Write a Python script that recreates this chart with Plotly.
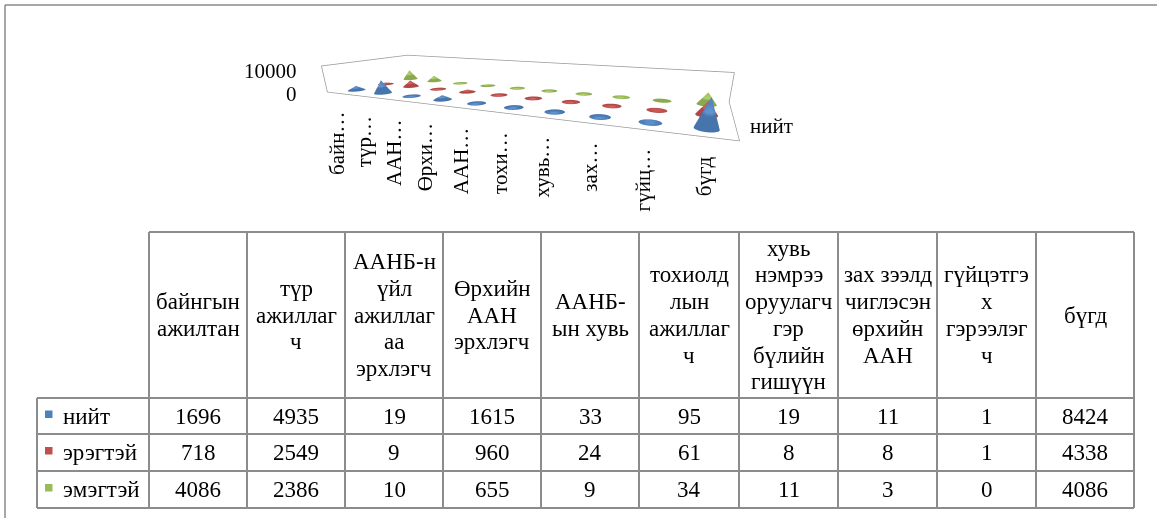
import math
import plotly.graph_objects as go

# ---------------- data ----------------
categories = ["байнгын ажилтан", "түр ажиллагч", "ААНБ-н үйл ажиллагаа эрхлэгч",
              "Өрхийн ААН эрхлэгч", "ААНБ-ын хувь", "тохиолдлын ажиллагч",
              "хувь нэмрээ оруулагч гэр бүлийн гишүүн", "зах зээлд чиглэсэн өрхийн ААН",
              "гүйцэтгэх гэрээлэгч", "бүгд"]
header_labels = ["байнгын<br>ажилтан", "түр<br>ажиллаг<br>ч", "ААНБ-н<br>үйл<br>ажиллаг<br>аа<br>эрхлэгч",
                 "Өрхийн<br>ААН<br>эрхлэгч", "ААНБ-<br>ын хувь", "тохиолд<br>лын<br>ажиллаг<br>ч",
                 "хувь<br>нэмрээ<br>оруулагч<br>гэр<br>бүлийн<br>гишүүн", "зах зээлд<br>чиглэсэн<br>өрхийн<br>ААН",
                 "гүйцэтгэ<br>х<br>гэрээлэг<br>ч", "бүгд"]
axis_labels = ["байн…", "түр…", "ААН…", "Өрхи…", "ААН…", "тохи…", "хувь…", "зах…", "гүйц…", "бүгд"]
series_names = ["нийт", "эрэгтэй", "эмэгтэй"]
niit = [1696, 4935, 19, 1615, 33, 95, 19, 11, 1, 8424]
eregtei = [718, 2549, 9, 960, 24, 61, 8, 8, 1, 4338]
emegtei = [4086, 2386, 10, 655, 9, 34, 11, 3, 0, 4086]
series_values = [niit, eregtei, emegtei]
series_colors = ["#4F81BD", "#C0504D", "#9BBB59"]
z_ticks = [0, 10000]

W, H = 1157, 518
FONT = "Liberation Serif"


def X(px):
    return px / W


def Y(py):
    return 1 - py / H


# ---------------- 3D cones ----------------
def cone_trace(values, j, color, r=0.22, n=40):
    xs, ys, zs, I, J, K = [], [], [], [], [], []
    for i, v in enumerate(values):
        b = len(xs)
        xs += [i, i]
        ys += [j, j]
        zs += [0, v]
        for k in range(n):
            a = 2 * math.pi * k / n
            xs.append(i + r * math.cos(a))
            ys.append(j + r * math.sin(a))
            zs.append(0)
        for k in range(n):
            p = b + 2 + k
            q = b + 2 + (k + 1) % n
            I += [b + 1, b]
            J += [p, q]
            K += [q, p]
    return go.Mesh3d(x=xs, y=ys, z=zs, i=I, j=J, k=K, color=color, flatshading=False,
                     lighting=dict(ambient=0.9, diffuse=0.35, specular=0.3, roughness=0.5, fresnel=0.1),
                     lightposition=dict(x=-100000, y=-100000, z=60000),
                     hoverinfo="skip", showscale=False)


fig = go.Figure()
for j, (vals, col) in enumerate(zip(series_values, series_colors)):
    fig.add_trace(cone_trace(vals, j, col))

axis_common = dict(showbackground=False, showgrid=False, zeroline=False, showticklabels=False,
                   ticks="", title=dict(text=""), showline=True, linecolor="#969696", linewidth=1.5,
                   mirror=True, showspikes=False)

LBL = dict(family=FONT, size=21, color="black")
scene_ann = []
for i, lab in enumerate(axis_labels):
    scene_ann.append(dict(x=i, y=-0.5, z=0, text=lab, textangle=-90, showarrow=False,
                          xanchor="center", yanchor="top", yshift=-17, xshift=-3, font=LBL))
scene_ann.append(dict(x=-0.5, y=-0.5, z=z_ticks[1], text=str(z_ticks[1]), showarrow=False,
                      xanchor="right", yanchor="middle", xshift=-22, yshift=-5, font=LBL))
scene_ann.append(dict(x=-0.5, y=-0.5, z=z_ticks[0], text=str(z_ticks[0]), showarrow=False,
                      xanchor="right", yanchor="middle", xshift=-28, yshift=-2, font=LBL))
scene_ann.append(dict(x=9.5, y=0, z=0, text=series_names[0], showarrow=False,
                      xanchor="left", yanchor="middle", xshift=11, yshift=6, font=LBL))

fig.update_layout(
    scene=dict(
        domain=dict(x=[0.2359, 0.7199], y=[0.4562, 1.0]),
        xaxis=dict(range=[-0.5, 9.5], **axis_common),
        yaxis=dict(range=[-0.5, 2.5], **axis_common),
        zaxis=dict(range=[0, 10000], **axis_common),
        aspectmode="manual",
        aspectratio=dict(x=1, y=0.3, z=0.07),
        camera=dict(eye=dict(x=0.4234, y=-0.7537, z=0.1552),
                    center=dict(x=0.056, y=0.1118, z=-0.1852),
                    up=dict(x=0, y=0, z=1),
                    projection=dict(type="perspective")),
        annotations=scene_ann,
    )
)

# ---------------- data table ----------------
col_x = [37, 149, 247, 345, 443, 541, 639, 739, 838, 937, 1036, 1134]
row_y = [232, 398, 434, 471, 508]
LC = "#8c8c8c"
shapes = []
# outer chart border
shapes.append(dict(type="line", xref="paper", yref="paper", x0=X(5), x1=X(1157), y0=Y(5), y1=Y(5),
                   line=dict(color="#8a8a8a", width=1.5)))
shapes.append(dict(type="line", xref="paper", yref="paper", x0=X(5), x1=X(5), y0=Y(5), y1=Y(518),
                   line=dict(color="#8a8a8a", width=1.5)))
# horizontal lines
shapes.append(dict(type="line", xref="paper", yref="paper", x0=X(col_x[1]), x1=X(col_x[-1]),
                   y0=Y(row_y[0]), y1=Y(row_y[0]), line=dict(color=LC, width=2)))
for ry in row_y[1:]:
    shapes.append(dict(type="line", xref="paper", yref="paper", x0=X(col_x[0]), x1=X(col_x[-1]),
                       y0=Y(ry), y1=Y(ry), line=dict(color=LC, width=2)))
# vertical lines
shapes.append(dict(type="line", xref="paper", yref="paper", x0=X(col_x[0]), x1=X(col_x[0]),
                   y0=Y(row_y[1]), y1=Y(row_y[-1]), line=dict(color=LC, width=2)))
for cx in col_x[1:]:
    shapes.append(dict(type="line", xref="paper", yref="paper", x0=X(cx), x1=X(cx),
                       y0=Y(row_y[0]), y1=Y(row_y[-1]), line=dict(color=LC, width=2)))

annotations = []
TS = 23
line_gap = 26.7
hc = (row_y[0] + row_y[1]) / 2
for c, lab in enumerate(header_labels):
    cx = (col_x[c + 1] + col_x[c + 2]) / 2
    lines = lab.split("<br>")
    n = len(lines)
    for k, ln in enumerate(lines):
        yy = hc + (k - (n - 1) / 2) * line_gap
        annotations.append(dict(x=X(cx), y=Y(yy), xref="paper", yref="paper", text=ln, showarrow=False,
                                xanchor="center", yanchor="middle",
                                font=dict(family=FONT, size=TS, color="black")))
for r, (name, vals, col) in enumerate(zip(series_names, series_values, series_colors)):
    cy = (row_y[r + 1] + row_y[r + 2]) / 2
    shapes.append(dict(type="rect", xref="paper", yref="paper", x0=X(45), x1=X(52.5),
                       y0=Y(cy - 5.5), y1=Y(cy + 2), fillcolor=col, line=dict(width=0)))
    annotations.append(dict(x=X(61), y=Y(cy), xref="paper", yref="paper", text=name, showarrow=False,
                            xanchor="left", yanchor="middle",
                            font=dict(family=FONT, size=TS, color="black")))
    for c, v in enumerate(vals):
        cx = (col_x[c + 1] + col_x[c + 2]) / 2
        annotations.append(dict(x=X(cx), y=Y(cy), xref="paper", yref="paper", text=str(v), showarrow=False,
                                xanchor="center", yanchor="middle",
                                font=dict(family=FONT, size=TS, color="black")))

fig.update_layout(
    width=W, height=H,
    margin=dict(l=0, r=0, t=0, b=0),
    paper_bgcolor="white",
    plot_bgcolor="white",
    showlegend=False,
    shapes=shapes,
    annotations=annotations,
    font=dict(family=FONT),
)

fig.write_html("out.html", config={"displayModeBar": False},
               post_script="document.body.style.margin='0';")
